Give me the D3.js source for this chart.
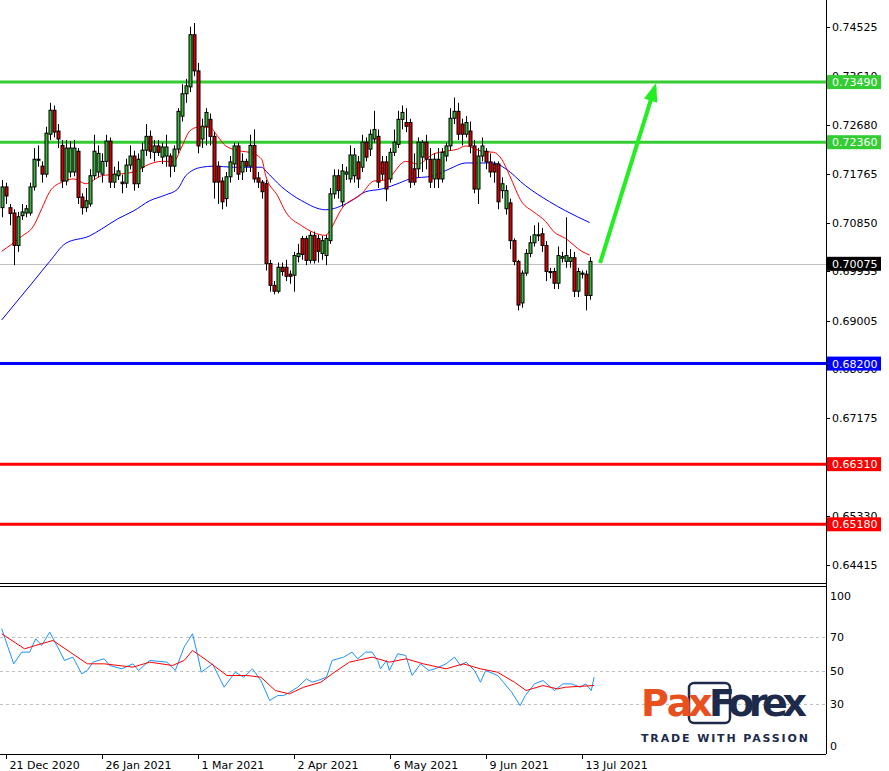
<!DOCTYPE html>
<html><head><meta charset="utf-8">
<script src="https://cdn.jsdelivr.net/npm/d3@7/dist/d3.min.js"></script>
<style>body{margin:0;background:#fff}svg{display:block}text{font-family:Tahoma,"DejaVu Sans",sans-serif}</style>
</head><body>
<svg id="c" width="889" height="771"></svg>
<script>
const open=[.7113,.7152,.7113,.7103,.7042,.7098,.7103,.7103,.7152,.7202,.7191,.7176,.7251,.7296,.7257,.7230,.7163,.7180,.7180,.7219,.7133,.7113,.7120,.7173,.7180,.7176,.7200,.7238,.7161,.7173,.7161,.7159,.7193,.7210,.7158,.7189,.7221,.7247,.7217,.7229,.7208,.7210,.7210,.7191,.7223,.7285,.7327,.7340,.7438,.7370,.7242,.7266,.7279,.7247,.7191,.7163,.7130,.7171,.7195,.7229,.7180,.7200,.7191,.7230,.7169,.7161,.7158,.7008,.6967,.6956,.7001,.7001,.6988,.6986,.7021,.7055,.7055,.7014,.7061,.7055,.7027,.7023,.7051,.7139,.7173,.7124,.7176,.7167,.7173,.7199,.7189,.7236,.7223,.7242,.7247,.7199,.7199,.7167,.7217,.7232,.7279,.7273,.7273,.7186,.7186,.7208,.7236,.7204,.7167,.7204,.7167,.7210,.7229,.7281,.7294,.7270,.7251,.7257,.7229,.7148,.7210,.7219,.7199,.7195,.7195,.7145,.7111,.7122,.7051,.7012,.6934,.6990,.7027,.7047,.7061,.7064,.7042,.6991,.6993,.6971,.7018,.7012,.7012,.7019,.6956,.6990,.6988,.6948];
const close=[.7152,.7135,.7102,.7042,.7096,.7105,.7111,.7152,.7204,.7204,.7176,.7253,.7296,.7255,.7242,.7163,.7225,.7225,.7225,.7132,.7113,.7126,.7173,.7219,.7215,.7200,.7238,.7161,.7176,.7182,.7158,.7193,.7210,.7158,.7204,.7221,.7247,.7219,.7229,.7217,.7227,.7227,.7191,.7223,.7294,.7327,.7342,.7438,.7370,.7229,.7266,.7292,.7247,.7161,.7161,.7124,.7171,.7199,.7229,.7176,.7200,.7191,.7230,.7167,.7161,.7143,.7008,.6967,.6956,.7001,.6993,.6984,.6984,.7023,.7027,.7025,.7014,.7061,.7014,.7031,.7051,.7055,.7139,.7173,.7145,.7182,.7180,.7212,.7212,.7167,.7236,.7208,.7251,.7260,.7161,.7176,.7148,.7217,.7236,.7279,.7292,.7266,.7161,.7161,.7236,.7236,.7204,.7161,.7204,.7167,.7217,.7229,.7281,.7294,.7251,.7251,.7273,.7229,.7148,.7210,.7229,.7199,.7180,.7180,.7124,.7158,.7145,.7051,.7012,.6930,.6990,.7027,.7047,.7062,.7062,.7042,.6993,.6993,.6971,.7023,.7021,.7023,.7019,.6956,.6993,.6988,.6948,.7012];
const high=[.7165,.7160,.7120,.7110,.7105,.7120,.7118,.7160,.7225,.7230,.7200,.7265,.7310,.7305,.7270,.7240,.7240,.7238,.7240,.7225,.7140,.7150,.7185,.7250,.7230,.7215,.7250,.7245,.7190,.7200,.7175,.7205,.7230,.7220,.7215,.7235,.7270,.7258,.7240,.7240,.7235,.7250,.7215,.7230,.7300,.7345,.7355,.7453,.7460,.7385,.7280,.7300,.7290,.7255,.7200,.7170,.7180,.7210,.7235,.7235,.7215,.7205,.7250,.7260,.7180,.7165,.7165,.7015,.6975,.7010,.7010,.7015,.6995,.7030,.7045,.7060,.7060,.7068,.7068,.7062,.7060,.7062,.7150,.7185,.7185,.7195,.7190,.7230,.7225,.7210,.7250,.7245,.7260,.7295,.7260,.7210,.7210,.7225,.7260,.7295,.7305,.7300,.7280,.7215,.7245,.7240,.7250,.7225,.7215,.7225,.7225,.7235,.7300,.7320,.7310,.7280,.7285,.7275,.7240,.7225,.7245,.7225,.7215,.7200,.7200,.7170,.7155,.7130,.7055,.7015,.6995,.7035,.7060,.7080,.7085,.7075,.7050,.7000,.7000,.7040,.7030,.7095,.7035,.7030,.7000,.6995,.6995,.7020];
const low=[.7095,.7120,.7080,.7005,.7030,.7090,.7095,.7098,.7145,.7190,.7160,.7170,.7240,.7245,.7225,.7150,.7155,.7170,.7172,.7120,.7100,.7105,.7115,.7165,.7170,.7160,.7190,.7150,.7150,.7165,.7140,.7150,.7185,.7145,.7150,.7180,.7210,.7205,.7200,.7210,.7195,.7190,.7170,.7180,.7215,.7275,.7310,.7330,.7360,.7215,.7225,.7230,.7230,.7130,.7120,.7110,.7115,.7160,.7180,.7165,.7165,.7180,.7180,.7160,.7150,.7130,.6995,.6955,.6950,.6952,.6985,.6975,.6970,.6955,.7010,.7015,.7005,.7008,.7008,.7010,.7015,.7005,.7045,.7130,.7130,.7115,.7165,.7160,.7160,.7150,.7180,.7200,.7210,.7235,.7150,.7165,.7125,.7160,.7210,.7225,.7260,.7255,.7150,.7155,.7170,.7180,.7185,.7150,.7150,.7150,.7160,.7200,.7220,.7270,.7240,.7230,.7245,.7215,.7140,.7120,.7200,.7185,.7170,.7160,.7110,.7130,.7100,.7035,.7005,.6920,.6925,.6985,.7020,.7040,.7050,.7030,.6975,.6980,.6960,.6960,.7010,.7000,.7000,.6945,.6945,.6980,.6920,.6940];
const dateIdx=[1,25,49,73,97,121,145];
const dateLabels=["21 Dec 2020","26 Jan 2021","1 Mar 2021","2 Apr 2021","6 May 2021","9 Jun 2021","13 Jul 2021"];
const priceTicks=[0.74525,0.73610,0.72680,0.71765,0.70850,0.69935,0.69005,0.68090,0.67175,0.66250,0.65330,0.64415];
const maSlowIdx=[0,8,12,16,22,25,29,33,37,41,44,46,50,53,58,65,66,70,75,81,87,91,95,100,102,108,112,116,123,126,131,137,141,147];
const maSlow=[.6902,.6975,.7012,.7046,.7060,.7073,.7092,.7107,.7126,.7137,.7148,.7173,.7189,.7191,.7189,.7189,.7182,.7152,.7126,.7109,.7124,.7143,.7148,.7161,.7167,.7173,.7186,.7197,.7197,.7186,.7154,.7124,.7107,.7085];
const maFastIdx=[0,5,8,10,12,15,18,21,25,29,33,37,40,43,45,47,49,52,54,56,60,62,65,66,69,71,75,81,82,85,90,93,96,101,104,108,111,114,116,120,123,125,127,130,133,136,138,141,145,147];
const maFast=[.7031,.7059,.7079,.7111,.7143,.7161,.7167,.7158,.7173,.7176,.7180,.7195,.7200,.7200,.7227,.7257,.7264,.7264,.7247,.7229,.7219,.7217,.7204,.7173,.7135,.7105,.7079,.7061,.7070,.7111,.7139,.7163,.7165,.7200,.7195,.7214,.7219,.7223,.7229,.7219,.7217,.7204,.7173,.7124,.7105,.7087,.7068,.7055,.7031,.7024];
const levelValues=[0.7349,0.7236,0.6820,0.6631,0.6518];
const levelLabels=["0.73490","0.72360","0.68200","0.66310","0.65180"];
const levelColors=["#33cc33","#33cc33","#0000ff","#ff0000","#ff0000"];
const lastPrice=0.70075;
const arrowIdx=[149.6,163.3], arrowPrice=[0.7009,0.7340];
const rsiIdx=[0,3,5,7,8.5,10,12,14,15.7,17.8,20,21.4,22.8,25.6,27,30,32.8,34.2,37,41.3,43.4,45.6,47.7,49.1,49.9,52.7,55.6,58.4,60.5,62.7,64.8,67,69,70.5,72,74,76.2,77.6,79,81.2,82.6,85.5,87.6,89,91,92.6,94,94.7,96.2,96.9,99,101,102.6,104.7,106.8,108.3,111.1,113.2,114.7,116.1,118.2,119.7,121,124,125.4,127.5,129.6,130.9,133.2,135.3,138.2,140.3,142.5,144.6,146,147.4,148.1];
const rsiVal=[75,54,61,61,69,65,73,64,56,58,48,50,55,57,53,51,54,50,56,55,50,64,72,58,49,54,40,49,46,51,44,32,35,35,37,40,45,43,44,46,56,58,61,57,61,61,56,51,56,50,60,59,47,54,50,51,54,58,53,55,50,43,50,47,43,37,29,35,42,44,38,42,42,40,42,38,46];
const sigIdx=[0,5.7,8.5,12.8,17.1,21.4,25.6,32.8,37,42.7,45.6,47.7,51.3,56.3,61.3,64.8,68.4,71.9,75.5,79.8,82.6,86.9,92.6,96.9,101.1,105.4,111.1,115.4,119.7,123.9,128.2,131.1,135.3,138.9,141,148.1];
const sigVal=[72,63,65,68,61,54,54,52,55,53,56,62,56,47,47,46,38,36,40,43,48,55,58,55,57,54,51,54,51,49,43,38,41,39,40,41];

const svg=d3.select("#c");
const AX=826, MB=583, RT=587, RB=754;
const x=d3.scaleLinear().domain([0,147]).range([1.7,589.7]);
const y=d3.scaleLinear().domain([0.74525,0.64415]).range([27,565]);
const yr=d3.scaleLinear().domain([0,100]).range([RB,RT]);

svg.append("line").attr("x1",AX+.5).attr("x2",AX+.5).attr("y1",0).attr("y2",RB).attr("stroke","#000");
svg.append("line").attr("x1",0).attr("x2",AX).attr("y1",MB+.5).attr("y2",MB+.5).attr("stroke","#000");
svg.append("line").attr("x1",0).attr("x2",AX).attr("y1",RT-.5).attr("y2",RT-.5).attr("stroke","#000");
svg.append("line").attr("x1",0).attr("x2",AX).attr("y1",RB+.5).attr("y2",RB+.5).attr("stroke","#000");

const pa=svg.append("g");
priceTicks.forEach(p=>{
  pa.append("line").attr("x1",AX).attr("x2",AX+4).attr("y1",Math.round(y(p))+.5).attr("y2",Math.round(y(p))+.5).attr("stroke","#000");
  pa.append("text").attr("x",832).attr("y",y(p)+4).attr("font-size",11).text(p.toFixed(5));
});

svg.append("line").attr("x1",0).attr("x2",AX).attr("y1",Math.round(y(lastPrice))+.5).attr("y2",Math.round(y(lastPrice))+.5).attr("stroke","#c0c0c0");

levelValues.forEach((v,i)=>{
  svg.append("line").attr("x1",0).attr("x2",AX).attr("y1",y(v)).attr("y2",y(v)).attr("stroke",levelColors[i]).attr("stroke-width",3);
});

const lineP=d3.line().x(d=>x(d[0])).y(d=>y(d[1])).curve(d3.curveMonotoneX);
svg.append("path").attr("d",lineP(maSlowIdx.map((d,i)=>[d,maSlow[i]]))).attr("fill","none").attr("stroke","#0000ff").attr("stroke-width",1);
svg.append("path").attr("d",lineP(maFastIdx.map((d,i)=>[d,maFast[i]]))).attr("fill","none").attr("stroke","#ff0000").attr("stroke-width",1);

const g=svg.append("g");
open.forEach((o,i)=>{
  const c=close[i], cx=Math.round(x(i))+.5;
  g.append("line").attr("x1",cx).attr("x2",cx).attr("y1",y(high[i])).attr("y2",y(low[i])).attr("stroke","#000");
  const t=y(Math.max(o,c)), b=y(Math.min(o,c));
  g.append("rect").attr("x",cx-1.5).attr("y",t).attr("width",3).attr("height",Math.max(1,b-t))
   .attr("fill",c>=o?"#3cb43c":"#d40000").attr("stroke","#000").attr("stroke-width",1);
});

const ax1=x(arrowIdx[0]),ay1=y(arrowPrice[0]),ax2=x(arrowIdx[1]),ay2=y(arrowPrice[1]);
svg.append("line").attr("x1",ax1).attr("y1",ay1).attr("x2",ax2).attr("y2",ay2).attr("stroke","#22ee22").attr("stroke-width",4);
const ang=Math.atan2(ay2-ay1,ax2-ax1);
const hl=16,hw=0.45;
svg.append("path").attr("d",`M${ax2+4*Math.cos(ang)},${ay2+4*Math.sin(ang)} L${ax2-hl*Math.cos(ang-hw)},${ay2-hl*Math.sin(ang-hw)} L${ax2-hl*Math.cos(ang+hw)},${ay2-hl*Math.sin(ang+hw)} Z`).attr("fill","#22ee22");

levelValues.forEach((v,i)=>{
  svg.append("rect").attr("x",AX+1).attr("y",y(v)-7).attr("width",54).attr("height",14).attr("fill",levelColors[i]);
  svg.append("text").attr("x",832).attr("y",y(v)+4).attr("font-size",11).attr("fill","#fff").text(levelLabels[i]);
});
svg.append("rect").attr("x",AX+1).attr("y",y(lastPrice)-7).attr("width",54).attr("height",14).attr("fill","#000");
svg.append("text").attr("x",832).attr("y",y(lastPrice)+4).attr("font-size",11).attr("fill","#fff").text("0.70075");

[30,50,70].forEach(v=>{
  svg.append("line").attr("x1",0).attr("x2",AX).attr("y1",Math.round(yr(v))+.5).attr("y2",Math.round(yr(v))+.5).attr("stroke","#c0c0c0").attr("stroke-dasharray","3,3");
});
[0,30,50,70,100].forEach(v=>{
  svg.append("text").attr("x",830).attr("y",v===100?600:v===0?750:yr(v)+4).attr("font-size",11).text(v);
});
const lineR=d3.line().x(d=>x(d[0])).y(d=>yr(d[1]));
svg.append("path").attr("d",lineR(rsiIdx.map((d,i)=>[d,rsiVal[i]]))).attr("fill","none").attr("stroke","#1e90ff");
svg.append("path").attr("d",lineR(sigIdx.map((d,i)=>[d,sigVal[i]]))).attr("fill","none").attr("stroke","#ff0000");

dateIdx.forEach((d,i)=>{
  const tx=Math.round(x(d))+.5;
  svg.append("line").attr("x1",tx).attr("x2",tx).attr("y1",RB).attr("y2",RB+5).attr("stroke","#000");
  svg.append("text").attr("x",tx+3).attr("y",769).attr("font-size",11).text(dateLabels[i]);
});

const lg=svg.append("g");
const LF="Roboto, 'DejaVu Sans', sans-serif";
lg.append("rect").attr("x",689).attr("y",683).attr("width",41).attr("height",40).attr("rx",5).attr("fill","#fff").attr("stroke","#1e2a4a").attr("stroke-width",2.5);
lg.append("text").attr("x",641).attr("y",716).attr("font-size",38).attr("font-weight","bold").attr("font-family",LF).attr("fill","#e8501e").attr("letter-spacing",-1).text("Pa");
lg.append("text").attr("x",688).attr("y",716).attr("font-size",38).attr("font-weight","bold").attr("font-family",LF).attr("fill","#e8501e").text("x");
lg.append("text").attr("x",709).attr("y",716).attr("font-size",38).attr("font-weight","bold").attr("font-family",LF).attr("fill","#1e2a4a").attr("textLength",98).text("Forex");
lg.append("text").attr("x",641).attr("y",742).attr("font-size",11).attr("font-weight","bold").attr("font-family","'DejaVu Sans', sans-serif").attr("fill","#1e2a4a").attr("textLength",167).text("TRADE WITH PASSION");
</script>
</body></html>
